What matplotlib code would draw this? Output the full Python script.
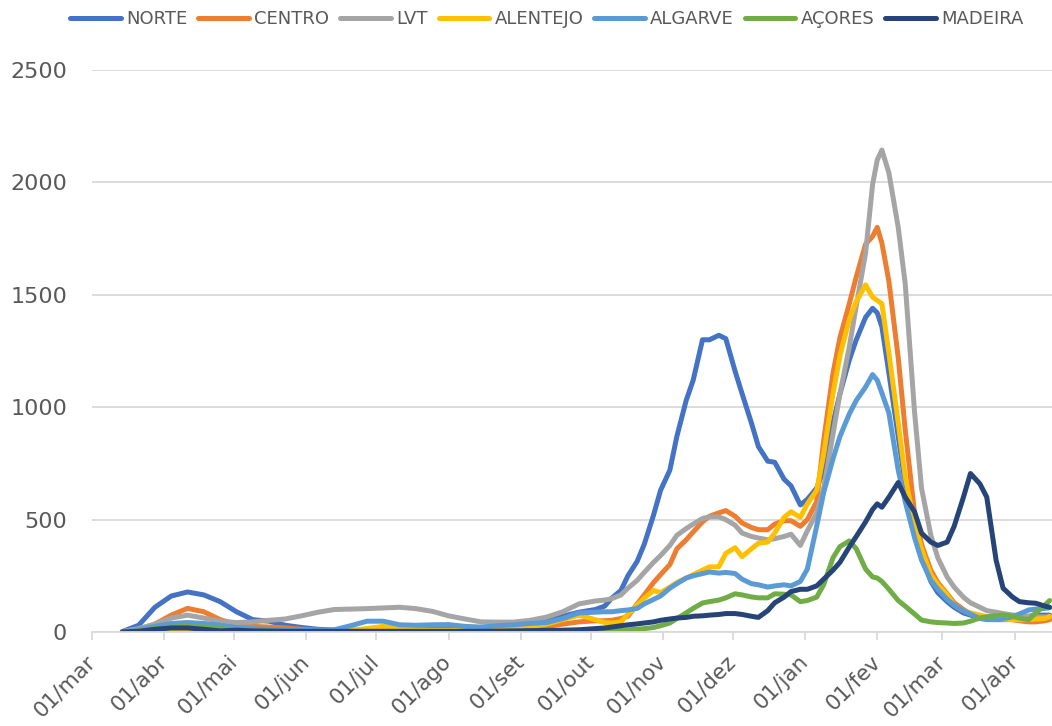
import pandas as pd
import matplotlib
matplotlib.use("Agg")
import matplotlib.pyplot as plt

# sample dates (weekly until Oct 2020, then every 3-4 days)
dates = [
    "2020-03-14", "2020-03-21", "2020-03-28", "2020-04-04", "2020-04-11", "2020-04-18", "2020-04-25",
    "2020-05-02", "2020-05-09", "2020-05-16", "2020-05-23", "2020-05-30", "2020-06-06", "2020-06-13",
    "2020-06-20", "2020-06-27", "2020-07-04", "2020-07-11", "2020-07-18", "2020-07-25", "2020-08-01",
    "2020-08-08", "2020-08-15", "2020-08-22", "2020-08-29", "2020-09-05", "2020-09-12", "2020-09-19",
    "2020-09-26",
    "2020-10-03", "2020-10-07", "2020-10-10", "2020-10-14", "2020-10-17", "2020-10-21", "2020-10-24",
    "2020-10-28", "2020-10-31", "2020-11-04", "2020-11-07", "2020-11-11", "2020-11-14", "2020-11-18",
    "2020-11-21", "2020-11-25", "2020-11-28", "2020-12-02", "2020-12-05", "2020-12-09", "2020-12-12",
    "2020-12-16", "2020-12-19", "2020-12-23", "2020-12-26", "2020-12-30",
    "2021-01-02", "2021-01-06", "2021-01-09", "2021-01-13", "2021-01-16", "2021-01-20", "2021-01-23",
    "2021-01-27", "2021-01-30", "2021-02-01", "2021-02-03", "2021-02-06", "2021-02-10", "2021-02-13",
    "2021-02-17", "2021-02-20", "2021-02-24", "2021-02-27", "2021-03-03", "2021-03-06", "2021-03-10",
    "2021-03-13", "2021-03-17", "2021-03-20", "2021-03-24", "2021-03-27", "2021-03-31", "2021-04-03",
    "2021-04-07", "2021-04-10", "2021-04-14", "2021-04-16",
]

norte = [
    2, 30, 110, 160, 178, 165, 135, 90, 55, 48, 30, 20, 12, 8, 8, 8, 10, 12, 12, 12, 12, 14, 15, 20, 28,
    35, 50, 70, 88,
    100, 115, 150, 185, 250, 315, 390, 520, 630, 720, 870, 1030, 1120, 1300, 1300, 1320, 1305, 1160,
    1060, 930, 825, 760, 755, 680, 650, 565,
    590, 640, 720, 930, 1060, 1210, 1300, 1400, 1440, 1420, 1357, 1152, 870, 660, 470, 334, 225, 175,
    135, 110, 85, 75, 65, 58, 55, 55, 60, 65, 70, 75, 75, 75,
]
centro = [
    2, 12, 35, 75, 105, 90, 55, 33, 25, 22, 18, 12, 8, 5, 5, 10, 20, 12, 8, 5, 5, 5, 8, 10, 15,
    20, 25, 35, 45,
    50, 50, 52, 60, 70, 125, 165, 220, 255, 300, 370, 410, 445, 490, 515, 530, 540, 515, 485, 465,
    455, 455, 480, 495, 495, 470,
    500, 580, 850, 1150, 1310, 1460, 1580, 1725, 1760, 1800, 1730, 1560, 1220, 900, 530, 390, 275, 220,
    170, 130, 100, 80, 70, 65, 60, 55, 55, 50, 45, 45, 50, 55,
]
lvt = [
    2, 15, 35, 62, 75, 62, 48, 42, 45, 52, 58, 72, 88, 100, 102, 104, 107, 110, 104, 92, 72, 58, 45,
    44, 44, 52, 66, 90, 125,
    138, 142, 148, 165, 195, 230, 265, 310, 340, 385, 430, 460, 480, 505, 512, 512, 500, 475, 440, 425,
    418, 410, 415, 425, 435, 385,
    450, 530, 640, 880, 1060, 1268, 1450, 1686, 1990, 2100, 2144, 2042, 1800, 1550, 980, 640, 430, 330,
    245, 200, 155, 130, 110, 95, 88, 82, 76, 72, 70, 68, 67, 66,
]
alentejo = [
    0, 2, 5, 8, 10, 10, 8, 5, 5, 5, 5, 5, 5, 5, 8, 15, 25, 15, 10, 8, 8, 10, 12, 15, 20, 25, 35, 55, 75,
    55, 42, 40, 45, 80, 120, 150, 185, 175, 200, 220, 240, 255, 275, 290, 290, 350, 375, 335, 370, 395,
    400, 440, 510, 535, 510,
    570, 630, 790, 1060, 1230, 1390, 1470, 1544, 1490, 1475, 1460, 1240, 930, 690, 480, 370, 255, 210,
    165, 120, 95, 85, 75, 68, 62, 58, 55, 55, 55, 58, 60, 70,
]
algarve = [
    0, 10, 25, 38, 42, 38, 30, 20, 15, 12, 10, 8, 8, 10, 28, 48, 48, 32, 30, 32, 33, 25, 22, 28, 32,
    38, 42, 60, 85,
    88, 90, 90, 95, 98, 105, 125, 145, 160, 195, 215, 240, 250, 260, 267, 262, 265, 260, 235, 215, 210,
    200, 205, 210, 205, 225,
    280, 470, 620, 770, 870, 970, 1030, 1090, 1145, 1120, 1063, 974, 720, 580, 420, 320, 230, 190, 145,
    120, 95, 80, 60, 55, 55, 60, 67, 80, 98, 102, 105, 108,
]
acores = [
    0, 5, 15, 22, 25, 22, 15, 10, 5, 3, 2, 2, 2, 2, 2, 2, 2, 2, 2, 2, 2, 2, 2, 2, 3, 3, 4, 4, 5,
    5, 5, 6, 8, 10, 12, 15, 20, 28, 40, 60, 85, 105, 129, 135, 142, 152, 170, 165, 156, 152, 152, 170,
    168, 165, 135,
    140, 155, 210, 330, 380, 405, 370, 280, 245, 240, 225, 190, 140, 115, 80, 53, 45, 42, 40, 38, 40,
    48, 62, 68, 72, 76, 70, 62, 55, 85, 120, 140,
]
madeira = [
    0, 3, 12, 18, 18, 12, 5, 8, 5, 4, 3, 3, 3, 3, 3, 3, 3, 3, 3, 3, 3, 3, 3, 4, 5, 6, 7, 8, 10,
    15, 18, 22, 28, 32, 36, 40, 45, 52, 58, 62, 65, 70, 72, 75, 78, 82, 82, 78, 70, 65, 95, 130, 155,
    180, 190,
    190, 205, 235, 275, 310, 378, 425, 490, 545, 570, 555, 600, 665, 600, 535, 440, 400, 385, 400, 470,
    600, 705, 660, 600, 320, 195, 156, 135, 130, 128, 115, 110,
]

regions = ["NORTE", "CENTRO", "LVT", "ALENTEJO", "ALGARVE", "AÇORES", "MADEIRA"]
colors = ["#4472C4", "#ED7D31", "#A5A5A5", "#FFC000", "#5B9BD5", "#70AD47", "#264478"]
series = [norte, centro, lvt, alentejo, algarve, acores, madeira]

tick_dates = ["2020-03-01", "2020-04-01", "2020-05-01", "2020-06-01", "2020-07-01", "2020-08-01",
              "2020-09-01", "2020-10-01", "2020-11-01", "2020-12-01", "2021-01-01", "2021-02-01",
              "2021-03-01", "2021-04-01"]
tick_labels = ["01/mar", "01/abr", "01/mai", "01/jun", "01/jul", "01/ago", "01/set", "01/out",
               "01/nov", "01/dez", "01/jan", "01/fev", "01/mar", "01/abr"]

x = pd.to_datetime(dates)
txt = "#595959"
grid = "#D9D9D9"

fig = plt.figure(figsize=(10.52, 7.26), dpi=100)
ax = fig.add_axes([92 / 1052, 1 - 632 / 726, 960 / 1052, 562 / 726])

for name, col, vals in zip(regions, colors, series):
    ax.plot(x, vals, color=col, lw=3.6, label=name,
            solid_capstyle="round", solid_joinstyle="round")

ax.set_xlim(pd.Timestamp("2020-03-01"), pd.Timestamp("2021-04-17"))
ax.set_ylim(0, 2500)
ax.set_yticks(range(0, 2501, 500))
ax.yaxis.grid(True, color=grid, lw=1.3)
ax.set_axisbelow(True)
ax.tick_params(axis="y", length=0, pad=18, labelsize=16, labelcolor=txt)

ax.set_xticks(pd.to_datetime(tick_dates))
ax.set_xticklabels(tick_labels, rotation=45, ha="right", va="center",
                   rotation_mode="anchor", fontsize=15.5, color=txt)
ax.tick_params(axis="x", length=6, width=1.3, color=grid, direction="out", pad=13)

for s in ["top", "right", "left"]:
    ax.spines[s].set_visible(False)
ax.spines["bottom"].set_color(grid)
ax.spines["bottom"].set_linewidth(1.3)

leg = fig.legend(loc="upper center", bbox_to_anchor=(0.52, 1.008), ncol=7, frameon=False,
                 fontsize=13, handlelength=2.8, handletextpad=0.3, columnspacing=0.6)
for t in leg.get_texts():
    t.set_color(txt)

fig.savefig("out.png", dpi=100)
